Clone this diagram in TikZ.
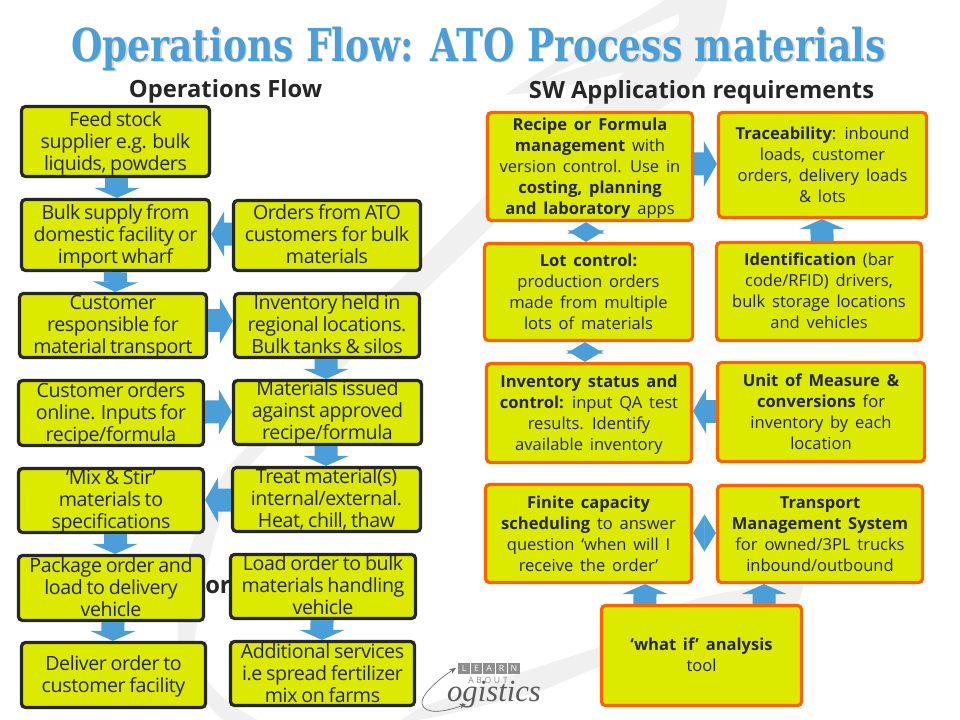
\documentclass[tikz,border=0pt]{standalone}
\usepackage{fontspec}
\usetikzlibrary{arrows.meta}
\setmainfont{Open Sans}
\newfontfamily\leftfont{Open Sans}[LetterSpace=-2,WordSpace=0.8]
\newfontfamily\rightfont{Open Sans}
\newfontfamily\headfont{Open Sans}
\newfontfamily\titlefont{DejaVu Serif}
\newfontfamily\logofont{Liberation Serif}
\definecolor{boxfill}{HTML}{DCEA00}
\definecolor{ink}{HTML}{262626}
\definecolor{flowblue}{HTML}{4A9FD8}
\definecolor{edgeorange}{HTML}{FF6000}
\definecolor{wmgrey}{HTML}{F0F0F0}
\definecolor{logogrey}{HTML}{8E8E8E}
\newcommand{\widewords}{\spaceskip=5.1pt\relax}
\tikzset{
  basebox/.style={rectangle,rounded corners=3pt,fill=boxfill,inner sep=0pt,line width=2.4pt},
  leftbox/.style={basebox,draw=ink},
  rightbox/.style={basebox,draw=edgeorange},
  lefttext/.style={text=ink,align=center,inner sep=0pt,font=\leftfont\fontsize{14.7}{16.5}\selectfont},
  righttext/.style={text=ink,align=center,inner sep=0pt,font=\rightfont\fontsize{12.4}{15.75}\selectfont,execute at begin node={\widewords}},
  flowv/.style={draw=flowblue,line width=17.25pt,-{Triangle[width=34pt,length=7.5pt,line width=0pt,sep=0pt]}},
  flowh/.style={draw=flowblue,line width=17.25pt,-{Triangle[width=34pt,length=9.75pt,line width=0pt,sep=0pt]}},
  flowd/.style={draw=flowblue,line width=0.2pt,{Triangle[width=28pt,length=8.6pt,line width=0pt,sep=0pt]}-{Triangle[width=28pt,length=8.6pt,line width=0pt,sep=0pt]}},
  heading/.style={font=\headfont\bfseries\fontsize{17.8}{22}\selectfont,text=ink,inner sep=0pt},
  logoletter/.style={fill=logogrey,text=white,font=\fontsize{6.5}{7}\selectfont,minimum width=8.6pt,minimum height=8pt,inner sep=0pt},
  watermark/.style={fill=wmgrey,draw=none},
}
% style, name, x1,y1,x2,y2, text offset in px (down), text
\newcommand{\bx}[8]{\node[#1box,minimum width={(#5-#3-3)*0.75pt},minimum height={(#6-#4-3)*0.75pt}] (#2) at ({(#3+#5)/2},{(#4+#6)/2}) {};
  \node[#1text] (#2text) at ([yshift={-(#7)*0.75pt}]#2.center) {#8};}
\begin{document}
\begin{tikzpicture}[x=0.75pt,y=-0.75pt]
\useasboundingbox (0,0) rectangle (960,720);
\fill[white] (0,0) rectangle (960,720);
% watermark
\fill[watermark] (505,95) .. controls (560,55) and (620,30) .. (665,0) -- (727,0) .. controls (724,30) and (705,70) .. (682,96) -- (540,180) -- (425,290) -- (350,360)
  .. controls (290,425) and (250,460) .. (232,490) .. controls (215,525) and (200,590) .. (195,640) .. controls (195,680) and (225,705) .. (262,722) -- (225,722)
  .. controls (195,695) and (175,660) .. (178,625) .. controls (180,590) and (185,560) .. (195,535) .. controls (205,510) and (215,485) .. (230,465)
  -- (340,350) -- (390,290) -- (478,203) -- (625,72) .. controls (590,80) and (550,92) .. (505,95) -- cycle;
\fill[white] (545,79) .. controls (590,55) and (640,30) .. (678,14) .. controls (682,25) and (675,30) .. (660,36) .. controls (620,52) and (580,68) .. (545,79) -- cycle;
\fill[watermark] (395,724) -- (421,707) -- (507,677) -- (600,647) .. controls (650,605) and (720,587) .. (803,585) .. controls (803,598) and (790,640) .. (720,650)
  -- (600,666) -- (539,692) -- (436,717) -- cycle;
% title
\node[anchor=base,inner sep=0,text=black!45,opacity=.35] (titleshade) at (480,63) {\resizebox{611pt}{\height}{\titlefont\bfseries\fontsize{34}{40}\selectfont Operations Flow: ATO Process materials}};
\node[anchor=base,inner sep=0,text=flowblue] (title) at (478.5,61.5) {\resizebox{611pt}{\height}{\titlefont\bfseries\fontsize{34}{40}\selectfont Operations Flow: ATO Process materials}};
\node[heading] (hleft) at (225.5,91.5) {Operations Flow};
\node[heading] (hright) at (701.5,92.5) {SW Application requirements};
\node[heading] (hidden) at (218,587) {or};
% left boxes
\bx{left}{A}{20}{105}{211}{178}{2}{Feed stock\\supplier e.g. bulk\\liquids, powders}
\bx{left}{B}{20}{198}{211}{272}{1}{Bulk supply from\\domestic facility or\\import wharf}
\bx{left}{C}{18}{292}{208}{359}{1}{Customer\\responsible for\\material transport}
\bx{left}{D}{232}{199}{422}{272}{-1}{Orders from ATO\\customers for bulk\\materials}
\bx{left}{E}{233}{292}{421}{359}{-1}{Inventory held in\\regional locations.\\Bulk tanks \& silos}
\bx{left}{F}{17}{379}{205}{447}{1}{Customer orders\\online. Inputs for\\recipe/formula}
\bx{left}{G}{232}{379}{423}{446}{0}{Materials issued\\against approved\\recipe/formula}
\bx{left}{H}{17}{467}{205}{534}{1}{‘Mix \& Stir’\\materials to\\specifications}
\bx{left}{I}{231}{466}{422}{533}{0}{Treat material(s)\\internal/external.\\Heat, chill, thaw}
\bx{left}{J}{17}{554}{205}{622}{-1}{Package order and\\load to delivery\\vehicle}
\bx{left}{K}{229}{553}{417}{620}{-1}{Load order to bulk\\materials handling\\vehicle}
\bx{left}{L}{20}{641}{207}{709}{1}{Deliver order to\\customer facility}
\bx{left}{M}{229}{640}{416}{707}{0}{Additional services\\i.e spread fertilizer\\mix on farms}
% right boxes
\bx{right}{R1}{486}{111}{694}{222}{2}{\textbf{Recipe or Formula}\\\textbf{management} with\\version control. Use in\\\textbf{costing, planning}\\\textbf{and laboratory} apps}
\bx{right}{R2}{717}{111}{928}{219}{0}{\textbf{Traceability}: inbound\\loads, customer\\orders, delivery loads\\\& lots}
\bx{right}{R3}{483}{242}{694}{342}{0}{\textbf{Lot control:}\\production orders\\made from multiple\\lots of materials}
\bx{right}{R4}{715}{241}{923}{342}{-1}{\textbf{Identification} (bar\\code/RFID) drivers,\\bulk storage locations\\and vehicles}
\bx{right}{R5}{485}{362}{693}{464}{2}{\textbf{Inventory status and}\\\textbf{control:} input QA test\\results. Identify\\available inventory}
\bx{right}{R6}{716}{361}{926}{463}{0}{\textbf{Unit of Measure \&}\\\textbf{conversions} for\\inventory by each\\location}
\bx{right}{R7}{484}{483}{693}{584}{0}{\textbf{Finite capacity}\\\textbf{scheduling} to answer\\question ‘when will I\\receive the order’}
\bx{right}{R8}{716}{484}{924}{584}{0}{\textbf{Transport}\\\textbf{Management System}\\for owned/3PL trucks\\inbound/outbound}
\bx{right}{R9}{600}{604}{803}{707}{-1}{\textbf{‘what if’ analysis}\\tool}
% left connectors
\draw[flowv] ([xshift=1.1pt]A.south) -- ([xshift=1.1pt]B.north);
\draw[flowv] (B.south) -- ([xshift=1.5pt]C.north);
\draw[flowh] ([yshift=1.1pt]D.west) -- ([yshift=.75pt]B.east);
\draw[flowh] ([yshift=3.4pt]C.east) -- ([yshift=3.4pt]E.west);
\draw[flowv] ([xshift=-.75pt]E.south) -- ([xshift=-1.1pt]G.north);
\draw[flowh] ([yshift=.75pt]F.east) -- ([yshift=.4pt]G.west);
\draw[flowv] ([xshift=-1.1pt]G.south) -- ([xshift=-.4pt]I.north);
\draw[flowh] ([yshift=-.4pt]I.west) -- ([yshift=.4pt]H.east);
\draw[flowv] ([xshift=3pt]H.south) -- ([xshift=3pt]J.north);
\draw[flowv] ([xshift=1.5pt]J.south) -- ([xshift=-.4pt]L.north);
\draw[flowv] ([xshift=-.75pt]K.south) -- ([xshift=-.4pt]M.north);
% right connectors
\draw[flowh] ([yshift=1.9pt]R1.east) -- ([yshift=.75pt]R2.west);
\draw[flowd] ([xshift=-3pt]R1.south) -- ([xshift=-1.9pt]R3.north);
\draw[flowd] ([xshift=-2.6pt]R3.south) -- ([xshift=-3pt]R5.north);
\draw[flowv] ([xshift=2.25pt]R4.north) -- ([xshift=-.4pt]R2.south);
\draw[flowh] ([yshift=.75pt]R6.west) -- ([yshift=1.5pt]R5.east);
\draw[flowd] ([yshift=.4pt]R7.east) -- ([yshift=.75pt]R8.west);
\draw[flowv] ([xshift=-42.4pt]R9.north) -- ([xshift=42.4pt]R7.south);
\draw[flowv] ([xshift=46.9pt]R9.north) -- ([xshift=-42pt]R8.south);
% logo
\node[logoletter] (l1) at (464,668.5) {L};
\node[logoletter] (l2) at (476.5,668.5) {E};
\node[logoletter] (l3) at (489,668.5) {A};
\node[logoletter] (l4) at (501.5,668.5) {R};
\node[logoletter] (l5) at (514,668.5) {N};
\node[font=\fontsize{6.5}{7}\selectfont\addfontfeature{LetterSpace=30},text=logogrey,inner sep=0] (about) at (488,680) {ABOUT};
\node[font=\logofont\itshape\fontsize{23}{28}\selectfont,text=black!65,inner sep=0] (logistics) at (494,695) {ogistics};
\coordinate (swa) at (456,668);
\coordinate (swb) at (466,704);
\draw[black!60,line width=.5pt,{Stealth[length=5pt,width=4pt]}-{Stealth[length=5pt,width=4pt]}] (swb) .. controls (445,712) and (425,715) .. (422,704) .. controls (420,695) and (440,678) .. (swa);
\end{tikzpicture}
\end{document}
